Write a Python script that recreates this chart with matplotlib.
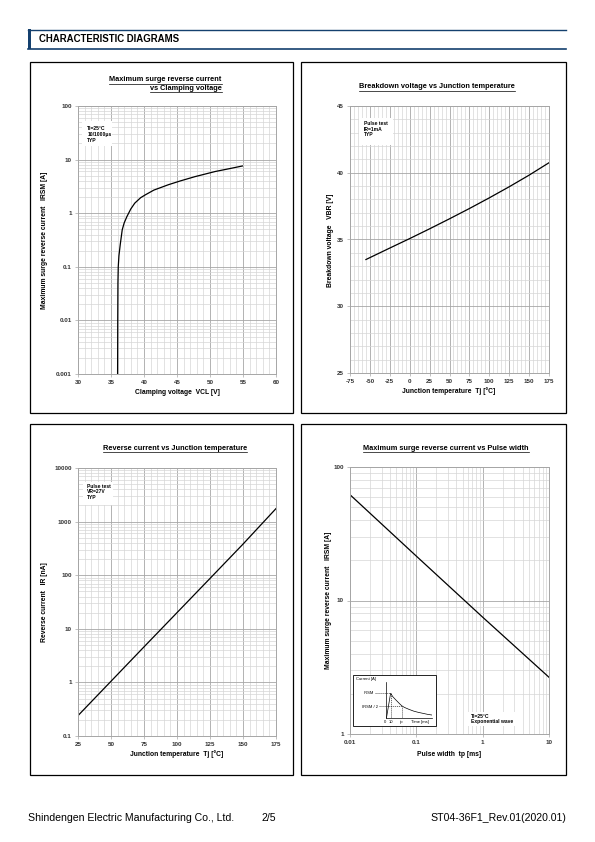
import matplotlib
matplotlib.use('Agg')
import matplotlib.pyplot as plt
from matplotlib.ticker import MultipleLocator, LogLocator, NullFormatter, FixedLocator, FixedFormatter, NullLocator
from matplotlib.patches import Rectangle
from matplotlib.lines import Line2D

plt.rcParams['font.family'] = ['Liberation Sans', 'DejaVu Sans']
plt.rcParams['axes.unicode_minus'] = False

# ---------------- data ----------------
# Panel 1: Maximum surge reverse current vs Clamping voltage
vcl = [36.0, 36.02, 36.05, 36.1, 36.2, 36.4, 36.7, 37.0, 37.4, 38.0, 38.6, 39.5, 40.2, 41.5, 43.7, 45.5, 47.7, 50.8, 53.0, 54.9]
irsm_vcl = [0.001, 0.01, 0.05, 0.1, 0.16, 0.26, 0.49, 0.66, 0.86, 1.2, 1.54, 1.95, 2.2, 2.7, 3.4, 4.0, 4.8, 6.0, 6.8, 7.6]

# Panel 2: Breakdown voltage vs Junction temperature
tj_vbr = [-55, -25, 0, 25, 50, 75, 100, 125, 150, 175]
vbr = [33.5, 34.36, 35.07, 35.80, 36.55, 37.32, 38.12, 38.95, 39.82, 40.75]

# Panel 3: Reverse current vs Junction temperature
tj_ir = [25, 50, 75, 100, 125, 150, 175]
ir = [0.24, 1.05, 4.6, 20, 87, 380, 1750]

# Panel 4: Maximum surge reverse current vs Pulse width
tp = [0.01, 0.1, 1, 10]
irsm_tp = [62, 21.5, 7.5, 2.66]

# Inset waveform (schematic exponential pulse)
wave_t = [0.1, 1.0, 1.5, 2.0, 3.0, 3.4, 4.0, 5.0, 6.0, 7.0, 8.0, 9.0, 10.0]
wave_i = [0.0, 1.0, 0.86, 0.76, 0.57, 0.5, 0.43, 0.35, 0.28, 0.23, 0.19, 0.15, 0.12]

log_ticks_1 = [0.001, 0.01, 0.1, 1, 10, 100]
log_labels_1 = ['0.001', '0.01', '0.1', '1', '10', '100']
log_ticks_3 = [0.1, 1, 10, 100, 1000, 10000]
log_labels_3 = ['0.1', '1', '10', '100', '1000', '10000']
log_ticks_4y = [1, 10, 100]
log_labels_4y = ['1', '10', '100']
log_ticks_4x = [0.01, 0.1, 1, 10]
log_labels_4x = ['0.01', '0.1', '1', '10']

# ---------------- figure ----------------
W, H = 595, 842
fig = plt.figure(figsize=(W / 100, H / 100), dpi=100)
NAVY = '#14406e'
MAJ = '#a6a6a6'
MIN = '#d6d6d6'
TICK_FS = 4.5
LAB_FS = 4.9
TITLE_FS = 5.3
ANN_FS = 3.6


def fx(x):
    return x / W


def fy(y):
    return 1 - y / H


def rect(x0, y0, x1, y1):
    return [x0 / W, 1 - y1 / H, (x1 - x0) / W, (y1 - y0) / H]


def ftext(x, y, s, **kw):
    return fig.text(fx(x), fy(y), s, **kw)


def fline(xs, ys, **kw):
    fig.add_artist(Line2D([fx(v) for v in xs], [fy(v) for v in ys], transform=fig.transFigure, **kw))


# header
fline([28, 566], [29.5, 29.5], color=NAVY, lw=1.0)
fline([28, 566], [48.8, 48.8], color=NAVY, lw=1.2)
fig.add_artist(Rectangle((fx(28.2), fy(49)), 2.6 / W, 19.5 / H, transform=fig.transFigure,
                         color=NAVY, lw=0))
ftext(39, 38.8, 'CHARACTERISTIC DIAGRAMS', fontsize=6.9, fontweight='bold', va='center', ha='left')

# panel boxes
for (x0, y0, x1, y1) in [(30, 62, 293, 413), (301, 62, 566, 413), (30, 424, 293, 775), (301, 424, 566, 775)]:
    fig.add_artist(Rectangle((fx(x0), fy(y1)), (x1 - x0) / W, (y1 - y0) / H, transform=fig.transFigure,
                             fill=False, edgecolor='black', lw=0.9))


def style(ax):
    for s in ax.spines.values():
        s.set_color(MAJ)
        s.set_linewidth(0.7)
    ax.grid(which='major', color=MAJ, lw=0.6)
    ax.grid(which='minor', color=MIN, lw=0.5)
    ax.set_axisbelow(True)
    ax.tick_params(which='major', length=2, width=0.5, color=MAJ, labelsize=TICK_FS, pad=2.5)
    ax.tick_params(which='minor', length=0)
    for lab in ax.get_xticklabels() + ax.get_yticklabels():
        lab.set_fontweight('bold')
        lab.set_color('#333333')


underlines = []

# ---- Panel 1 ----
ax1 = fig.add_axes(rect(78, 106, 276, 374))
ax1.plot(vcl, irsm_vcl, color='black', lw=0.9)
ax1.set_yscale('log')
ax1.set_xlim(30, 60)
ax1.set_ylim(0.001, 100)
ax1.xaxis.set_major_locator(MultipleLocator(5))
ax1.xaxis.set_minor_locator(MultipleLocator(1))
ax1.yaxis.set_major_locator(FixedLocator(log_ticks_1))
ax1.yaxis.set_major_formatter(FixedFormatter(log_labels_1))
ax1.yaxis.set_minor_locator(LogLocator(base=10, subs=range(2, 10), numticks=20))
ax1.yaxis.set_minor_formatter(NullFormatter())
style(ax1)
underlines.append(ftext(221.7, 79.5, 'Maximum surge reverse current', fontsize=TITLE_FS, fontweight='bold', ha='right', va='center'))
underlines.append(ftext(221.7, 88.3, 'vs Clamping voltage', fontsize=TITLE_FS, fontweight='bold', ha='right', va='center'))
ftext(177, 392, 'Clamping voltage  VCL [V]', fontsize=LAB_FS, fontweight='bold', ha='center', va='center')
ftext(45, 240, 'Maximum surge reverse current   IRSM [A]', fontsize=LAB_FS, fontweight='bold', ha='center', va='center', rotation=90)
fig.add_artist(Rectangle((fx(82), fy(146)), 30 / W, 25 / H, transform=fig.transFigure, facecolor='white', edgecolor='none', zorder=5))
ftext(87.3, 126.5, 'Tl=25°C\n10/1000μs\nTYP', fontsize=ANN_FS, fontweight='bold', ha='left', va='top', linespacing=1.15, zorder=6)

# ---- Panel 2 ----
ax2 = fig.add_axes(rect(350, 106, 549, 373))
ax2.plot(tj_vbr, vbr, color='black', lw=0.9)
ax2.set_xlim(-75, 175)
ax2.set_ylim(25, 45)
ax2.xaxis.set_major_locator(MultipleLocator(25))
ax2.xaxis.set_minor_locator(MultipleLocator(5))
ax2.yaxis.set_major_locator(MultipleLocator(5))
ax2.yaxis.set_minor_locator(MultipleLocator(1))
style(ax2)
underlines.append(ftext(437, 86.7, 'Breakdown voltage vs Junction temperature', fontsize=TITLE_FS, fontweight='bold', ha='center', va='center'))
ftext(449, 391, 'Junction temperature  Tj [°C]', fontsize=LAB_FS, fontweight='bold', ha='center', va='center')
ftext(330, 240, 'Breakdown voltage   VBR [V]', fontsize=LAB_FS, fontweight='bold', ha='center', va='center', rotation=90)
fig.add_artist(Rectangle((fx(359), fy(145)), 34 / W, 27 / H, transform=fig.transFigure, facecolor='white', edgecolor='none', zorder=5))
ftext(364, 121, 'Pulse test\nIR=1mA\nTYP', fontsize=ANN_FS, fontweight='bold', ha='left', va='top', linespacing=1.15, zorder=6)

# ---- Panel 3 ----
ax3 = fig.add_axes(rect(78, 468, 276, 736))
ax3.plot(tj_ir, ir, color='black', lw=0.9)
ax3.set_yscale('log')
ax3.set_xlim(25, 175)
ax3.set_ylim(0.1, 10000)
ax3.xaxis.set_major_locator(MultipleLocator(25))
ax3.xaxis.set_minor_locator(MultipleLocator(5))
ax3.yaxis.set_major_locator(FixedLocator(log_ticks_3))
ax3.yaxis.set_major_formatter(FixedFormatter(log_labels_3))
ax3.yaxis.set_minor_locator(LogLocator(base=10, subs=range(2, 10), numticks=20))
ax3.yaxis.set_minor_formatter(NullFormatter())
style(ax3)
underlines.append(ftext(174.7, 448.3, 'Reverse current vs Junction temperature', fontsize=TITLE_FS, fontweight='bold', ha='center', va='center'))
ftext(177, 754, 'Junction temperature  Tj [°C]', fontsize=LAB_FS, fontweight='bold', ha='center', va='center')
ftext(45, 602, 'Reverse current   IR [nA]', fontsize=LAB_FS, fontweight='bold', ha='center', va='center', rotation=90)
fig.add_artist(Rectangle((fx(83), fy(505)), 30 / W, 23 / H, transform=fig.transFigure, facecolor='white', edgecolor='none', zorder=5))
ftext(87.3, 483.5, 'Pulse test\nVR=27V\nTYP', fontsize=ANN_FS, fontweight='bold', ha='left', va='top', linespacing=1.15, zorder=6)

# ---- Panel 4 ----
ax4 = fig.add_axes(rect(350, 467, 549, 734))
ax4.plot(tp, irsm_tp, color='black', lw=0.9)
ax4.set_xscale('log')
ax4.set_yscale('log')
ax4.set_xlim(0.01, 10)
ax4.set_ylim(1, 100)
ax4.xaxis.set_major_locator(FixedLocator(log_ticks_4x))
ax4.xaxis.set_major_formatter(FixedFormatter(log_labels_4x))
ax4.xaxis.set_minor_locator(LogLocator(base=10, subs=range(2, 10), numticks=20))
ax4.xaxis.set_minor_formatter(NullFormatter())
ax4.yaxis.set_major_locator(FixedLocator(log_ticks_4y))
ax4.yaxis.set_major_formatter(FixedFormatter(log_labels_4y))
ax4.yaxis.set_minor_locator(LogLocator(base=10, subs=range(2, 10), numticks=20))
ax4.yaxis.set_minor_formatter(NullFormatter())
style(ax4)
underlines.append(ftext(446, 448.3, 'Maximum surge reverse current vs Pulse width', fontsize=TITLE_FS, fontweight='bold', ha='center', va='center'))
ftext(449, 754, 'Pulse width  tp [ms]', fontsize=LAB_FS, fontweight='bold', ha='center', va='center')
ftext(329, 600, 'Maximum surge reverse current   IRSM [A]', fontsize=LAB_FS, fontweight='bold', ha='center', va='center', rotation=90)
fig.add_artist(Rectangle((fx(466.7), fy(725.5)), 55 / W, 14 / H, transform=fig.transFigure, facecolor='white', edgecolor='none', zorder=5))
ftext(471, 713.5, 'Tl=25°C\nExponential wave', fontsize=ANN_FS, fontweight='bold', ha='left', va='top', linespacing=1.15, zorder=6)

# inset box
fig.add_artist(Rectangle((fx(352.7), fy(726)), 83 / W, 51 / H, transform=fig.transFigure,
                         facecolor='white', edgecolor='black', lw=0.6, zorder=5))
axi = fig.add_axes(rect(386, 682, 432, 718), zorder=6)
axi.patch.set_alpha(0)
axi.plot(wave_t, wave_i, color='black', lw=0.5)
axi.set_xlim(0, 10)
axi.set_ylim(0, 1.46)
axi.xaxis.set_major_locator(NullLocator())
axi.yaxis.set_major_locator(NullLocator())
for k in ['top', 'right']:
    axi.spines[k].set_visible(False)
for k in ['left', 'bottom']:
    axi.spines[k].set_linewidth(0.5)
axi.plot([-2.5, wave_t[1]], [wave_i[1], wave_i[1]], color='black', lw=0.4, ls=(0, (2, 1.5)), clip_on=False)
axi.plot([wave_t[1], wave_t[1]], [0, wave_i[1]], color='black', lw=0.4, ls=(0, (2, 1.5)))
axi.plot([-1.5, wave_t[5]], [wave_i[5], wave_i[5]], color='black', lw=0.4, ls=(0, (2, 1.5)), clip_on=False)
axi.plot([wave_t[5], wave_t[5]], [0, wave_i[5]], color='black', lw=0.4, ls=(0, (2, 1.5)))
IFS = 3.0
ftext(355.5, 679, 'Current [A]', fontsize=IFS, ha='left', va='center', zorder=7)
ftext(369, 693.3, 'IRSM', fontsize=IFS, ha='center', va='center', zorder=7)
ftext(370, 706.5, 'IRSM / 2', fontsize=IFS, ha='center', va='center', zorder=7)
ftext(384.8, 722, '0', fontsize=IFS, ha='center', va='center', zorder=7)
ftext(390.5, 722, '10', fontsize=IFS, ha='center', va='center', zorder=7)
ftext(401.5, 722, 'tp', fontsize=IFS, ha='center', va='center', zorder=7)
ftext(420, 722, 'Time [ms]', fontsize=IFS, ha='center', va='center', zorder=7)

# footer
ftext(28, 818, 'Shindengen Electric Manufacturing Co., Ltd.', fontsize=7.6, ha='left', va='center')
ftext(262, 818, '2/5', fontsize=7.6, ha='left', va='center')
ftext(566, 818, 'ST04-36F1_Rev.01(2020.01)', fontsize=7.6, ha='right', va='center')

# underline titles
fig.canvas.draw()
renderer = fig.canvas.get_renderer()
for t in underlines:
    bb = t.get_window_extent(renderer)
    yb = bb.y0 - 0.6
    fig.add_artist(Line2D([bb.x0 / (W), bb.x1 / (W)], [yb / H, yb / H], transform=fig.transFigure,
                          color='black', lw=0.5))

fig.savefig('out.png', dpi=100)
